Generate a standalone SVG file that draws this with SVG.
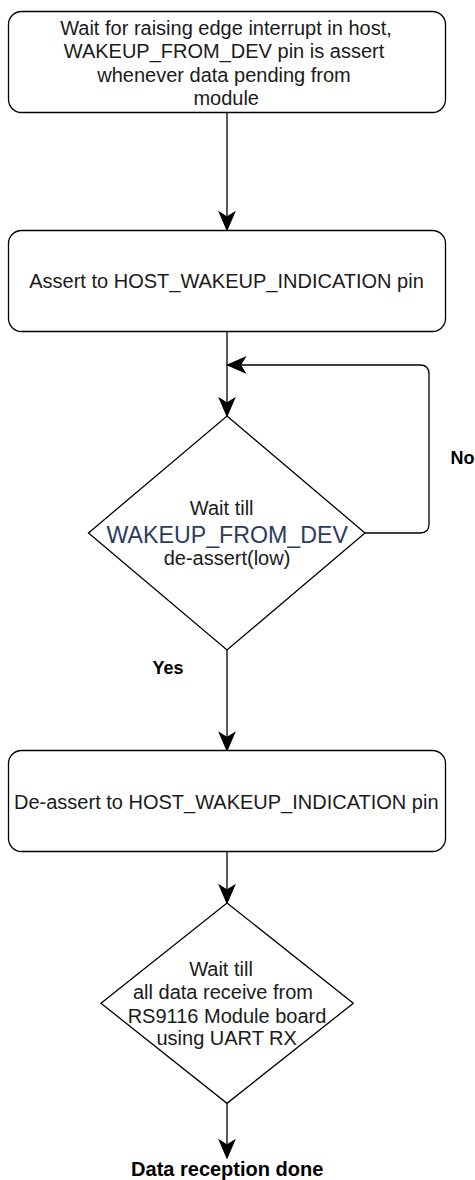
<svg xmlns="http://www.w3.org/2000/svg" width="475" height="1180" viewBox="0 0 475 1180">
<style>
.box{fill:#ffffff;stroke:#000000;stroke-width:1.3}
.edge{fill:none;stroke:#000000;stroke-width:1.3}
.t{font-family:"Liberation Sans",Arial,sans-serif;font-size:20px;fill:#1a1a1a;text-anchor:middle}
.lbl{font-family:"Liberation Sans",Arial,sans-serif;font-size:18px;font-weight:bold;fill:#000000}
.lbl20{font-size:20px;text-anchor:middle}
.big{font-size:23.2px;fill:#2b3c5e}
</style>
<defs>
<marker id="arr" markerUnits="userSpaceOnUse" markerWidth="20" markerHeight="20" viewBox="-16 -8 17 16" refX="0" refY="0" orient="auto" overflow="visible">
<path d="M0,0 L-15,-6.5 L-11,0 L-15,6.5 Z" fill="#000000" stroke="#000000" stroke-width="1"/>
</marker>
</defs>
<rect width="475" height="1180" fill="#ffffff"/>
<g id="connectors">
<path class="edge" d="M227,112.5 L227,230" marker-end="url(#arr)"/>
<path class="edge" d="M227,331.5 L227,416" marker-end="url(#arr)"/>
<path class="edge" d="M365,533 L420,533 Q429,533 429,524 L429,374 Q429,365 420,365 L227.5,365" marker-end="url(#arr)"/>
<path class="edge" d="M227,650 L227,750.5" marker-end="url(#arr)"/>
<path class="edge" d="M227,852 L227,903" marker-end="url(#arr)"/>
<path class="edge" d="M227,1103 L227,1158" marker-end="url(#arr)"/>
</g>
<g id="n1">
<rect class="box" x="8.5" y="11.5" width="437" height="101" rx="13" ry="13"/>
<text class="t" x="226" y="35">Wait for raising edge interrupt in host,</text>
<text class="t" x="224" y="58.3">WAKEUP_FROM_DEV pin is assert</text>
<text class="t" x="224" y="81.7">whenever data pending from</text>
<text class="t" x="226.2" y="105">module</text>
</g>
<g id="n2">
<rect class="box" x="8.5" y="230.5" width="437" height="101" rx="13" ry="13"/>
<text class="t" x="226.5" y="288.3">Assert to HOST_WAKEUP_INDICATION pin</text>
</g>
<g id="d1">
<path class="box" d="M227,416 L365,533 L227,650 L88.5,533 Z"/>
<text class="t" x="221.7" y="515">Wait till</text>
<text class="t big" x="227.2" y="542.5">WAKEUP_FROM_DEV</text>
<text class="t" x="227" y="564.5">de-assert(low)</text>
</g>
<g id="n3">
<rect class="box" x="8.5" y="750.5" width="437" height="101" rx="13" ry="13"/>
<text class="t" x="226.3" y="809">De-assert to HOST_WAKEUP_INDICATION pin</text>
</g>
<g id="d2">
<path class="box" d="M227,903 L353.3,1003.3 L227,1103.3 L101,1003.3 Z"/>
<text class="t" x="221" y="976">Wait till</text>
<text class="t" x="223" y="999.3">all data receive from</text>
<text class="t" x="227" y="1022.7">RS9116 Module board</text>
<text class="t" x="226.7" y="1045">using UART RX</text>
</g>
<g id="labels">
<text class="lbl" x="450.5" y="464.3">No</text>
<text class="lbl" x="152.5" y="674.3">Yes</text>
<text class="lbl lbl20" x="227.2" y="1175.5">Data reception done</text>
</g>
</svg>
